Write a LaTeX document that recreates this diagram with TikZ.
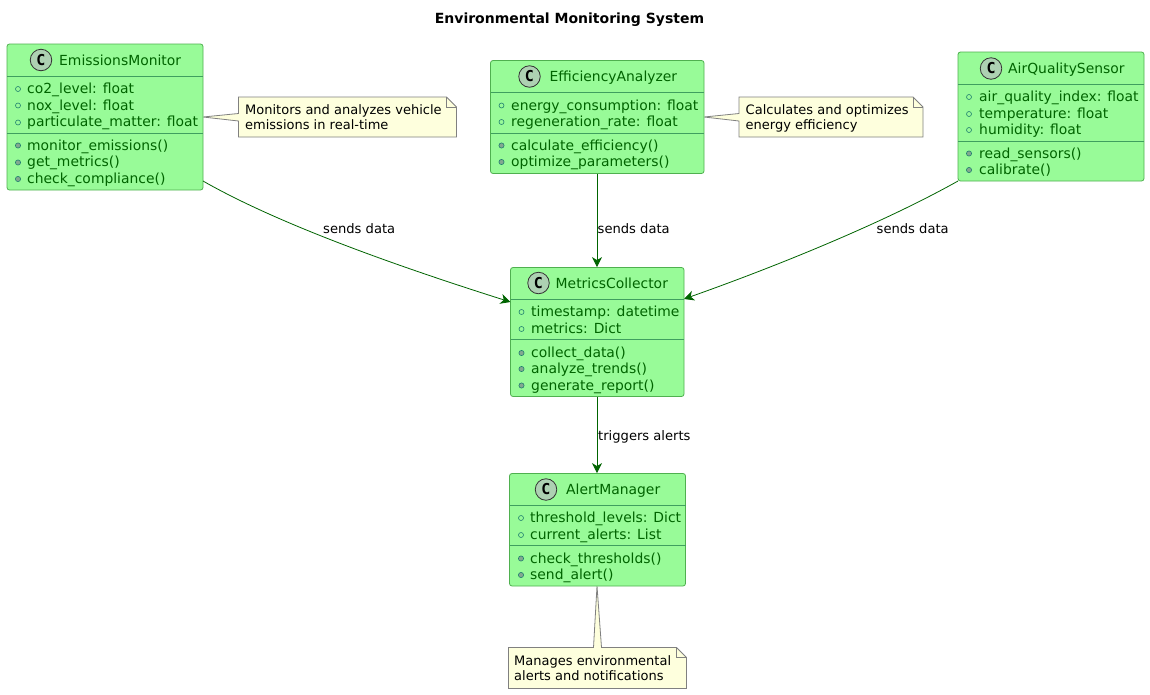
\documentclass[tikz,border=0pt]{standalone}
\usepackage{fontspec}
\setmainfont{DejaVu Sans}
\newfontfamily\cmono{DejaVu Sans Mono}
\usetikzlibrary{arrows.meta}
\definecolor{boxfill}{HTML}{98FB98}
\definecolor{boxline}{HTML}{006400}
\definecolor{boxedge}{HTML}{4FB04F}
\definecolor{sepline}{HTML}{3F9F5F}
\definecolor{notefill}{HTML}{FEFFDD}
\definecolor{noteline}{HTML}{808080}
\definecolor{circfill}{HTML}{ADD1B2}
\definecolor{markline}{HTML}{1F7F6F}
\definecolor{markfill}{HTML}{84A890}
\tikzset{
 x=1pt,y=-1pt,
 classbox/.style={draw=boxedge,fill=boxfill,line width=.8pt,rounded corners=2.5pt},
 sep/.style={draw=sepline,line width=.6pt},
 ctext/.style={inner sep=0pt,anchor=base west,text=boxline,font=\fontsize{13.9}{16}\selectfont},
 ntext/.style={inner sep=0pt,anchor=base west,text=black,font=\fontsize{13}{15}\selectfont},
 ltext/.style={inner sep=0pt,anchor=base west,text=black,font=\fontsize{13.1}{15}\selectfont},
 conn/.style={draw=boxline,line width=.8pt,-{Stealth[length=10pt,width=10pt,inset=3pt]}},
 notepoly/.style={draw=noteline,fill=notefill,line width=.8pt},
 vis/.style={draw=markline,line width=.6pt,fill=none},
 met/.style={draw=markline,line width=.6pt,fill=markfill},
}
\newcommand{\classicon}[2]{%
 \node[draw=black!80,fill=circfill,circle,minimum size=21.5pt,inner sep=0pt,line width=.8pt,font=\cmono\fontsize{15}{15}\bfseries\selectfont] (#1) at #2 {C};}
\newcommand{\vismark}[2]{\draw[vis] (#1,#2) circle (2.5pt);}
\newcommand{\metmark}[2]{\draw[met] (#1,#2) circle (2.6pt);}
\begin{document}
\begin{tikzpicture}
\useasboundingbox (0,0) rectangle (1150,694);
\fill[white] (0,0) rectangle (1150,694);
\node[inner sep=0pt,font=\fontsize{14}{16}\bfseries\selectfont] (title) at (569.5,19.5) {Environmental Monitoring System};

% notes' wedges and bodies
\coordinate (n1a) at (203,117);
\path[notepoly] (n1a) -- (238.5,113.5) -- (238.5,97) -- (446.5,97) -- (456.5,107) -- (456.5,137) -- (238.5,137) -- (238.5,121) -- cycle;
\draw[noteline,line width=.8pt] (446.5,97) -- (446.5,107) -- (456.5,107);
\node[ntext] (n1t1) at (245,114.5) {Monitors and analyzes vehicle};
\node[ntext] (n1t2) at (245,129.5) {emissions in real-time};

\coordinate (n2a) at (704,117);
\path[notepoly] (n2a) -- (739,113.5) -- (739,97) -- (913,97) -- (923,107) -- (923,137) -- (739,137) -- (739,121) -- cycle;
\draw[noteline,line width=.8pt] (913,97) -- (913,107) -- (923,107);
\node[ntext] (n2t1) at (745.5,114.5) {Calculates and optimizes};
\node[ntext] (n2t2) at (745.5,129.5) {energy efficiency};

\coordinate (n3a) at (597,586);
\path[notepoly] (n3a) -- (593.5,647.5) -- (508.5,647.5) -- (508.5,688.5) -- (686.5,688.5) -- (686.5,657.5) -- (676.5,647.5) -- (601.5,647.5) -- cycle;
\draw[noteline,line width=.8pt] (676.5,647.5) -- (676.5,657.5) -- (686.5,657.5);
\node[ntext] (n3t1) at (514,665) {Manages environmental};
\node[ntext] (n3t2) at (514,680) {alerts and notifications};

% EmissionsMonitor
\node[classbox,inner sep=0pt,minimum width=196pt,minimum height=146pt] (em) at (105,117) {};
\draw[sep] (7,76.5) -- (203,76.5); \draw[sep] (7,133) -- (203,133);
\classicon{emc}{(41,60)}
\node[ctext] (emt) at (59,65) {EmissionsMonitor};
\vismark{18}{89}\node[ctext] (em1) at (27,93) {co2\_level: float};
\vismark{18}{105.5}\node[ctext] (em2) at (27,110) {nox\_level: float};
\vismark{18}{122.5}\node[ctext] (em3) at (27,126.5) {particulate\_matter: float};
\metmark{18}{145.5}\node[ctext] (em4) at (27,150) {monitor\_emissions()};
\metmark{18}{162.5}\node[ctext] (em5) at (27,166.5) {get\_metrics()};
\metmark{18}{179}\node[ctext] (em6) at (27,183) {check\_compliance()};

% EfficiencyAnalyzer
\node[classbox,inner sep=0pt,minimum width=213.5pt,minimum height=113pt] (ea) at (597.25,117) {};
\draw[sep] (490.5,92.5) -- (704,92.5); \draw[sep] (490.5,133) -- (704,133);
\classicon{eac}{(529.5,76.5)}
\node[ctext] (eat) at (549.5,81.5) {EfficiencyAnalyzer};
\vismark{501.5}{105.5}\node[ctext] (ea1) at (511,110) {energy\_consumption: float};
\vismark{501.5}{122}\node[ctext] (ea2) at (511,126.5) {regeneration\_rate: float};
\metmark{501.5}{145.5}\node[ctext] (ea3) at (511,150) {calculate\_efficiency()};
\metmark{501.5}{162}\node[ctext] (ea4) at (511,166.5) {optimize\_parameters()};

% AirQualitySensor
\node[classbox,inner sep=0pt,minimum width=186pt,minimum height=129pt] (aq) at (1051,116.5) {};
\draw[sep] (958,84.5) -- (1144,84.5); \draw[sep] (958,141) -- (1144,141);
\classicon{aqc}{(991,68.5)}
\node[ctext] (aqt) at (1008,73) {AirQualitySensor};
\vismark{969}{97}\node[ctext] (aq1) at (979,101.5) {air\_quality\_index: float};
\vismark{969}{114}\node[ctext] (aq2) at (979,118) {temperature: float};
\vismark{969}{130}\node[ctext] (aq3) at (979,134.5) {humidity: float};
\metmark{969}{153.5}\node[ctext] (aq4) at (979,158) {read\_sensors()};
\metmark{969}{170}\node[ctext] (aq5) at (979,174.5) {calibrate()};

% MetricsCollector
\node[classbox,inner sep=0pt,minimum width=173.5pt,minimum height=129pt] (mc) at (597.25,332) {};
\draw[sep] (510.5,299.5) -- (684,299.5); \draw[sep] (510.5,339.5) -- (684,339.5);
\classicon{mcc}{(538.5,283)}
\node[ctext] (mct) at (555.5,288) {MetricsCollector};
\vismark{521.5}{312}\node[ctext] (mc1) at (531,316.5) {timestamp: datetime};
\vismark{521.5}{329}\node[ctext] (mc2) at (531,333) {metrics: Dict};
\metmark{521.5}{353}\node[ctext] (mc3) at (531,357) {collect\_data()};
\metmark{521.5}{369}\node[ctext] (mc4) at (531,373.5) {analyze\_trends()};
\metmark{521.5}{385.5}\node[ctext] (mc5) at (531,390) {generate\_report()};

% AlertManager
\node[classbox,inner sep=0pt,minimum width=176pt,minimum height=112.5pt] (am) at (597.5,529.75) {};
\draw[sep] (509.5,505.5) -- (685.5,505.5); \draw[sep] (509.5,545.5) -- (685.5,545.5);
\classicon{amc}{(546,489.5)}
\node[ctext] (amt) at (566,494.5) {AlertManager};
\vismark{521}{518}\node[ctext] (am1) at (530,522.5) {threshold\_levels: Dict};
\vismark{521}{535}\node[ctext] (am2) at (530,539) {current\_alerts: List};
\metmark{521}{558.5}\node[ctext] (am3) at (530,563) {check\_thresholds()};
\metmark{521}{575}\node[ctext] (am4) at (530,579.5) {send\_alert()};

% connectors
\coordinate (emout) at (203,181);
\coordinate (mcin1) at (510.5,302);
\coordinate (aqout) at (958,181);
\coordinate (mcin2) at (684,299);
\draw[conn] (emout) .. controls (280,225) and (400,267) .. (mcin1);
\draw[conn] (ea.south -| 597,0) -- (mc.north -| 597,0);
\draw[conn] (aqout) .. controls (885,222) and (780,265) .. (mcin2);
\draw[conn] (mc.south -| 597,0) -- (am.north -| 597,0);
\node[ltext] (l1) at (323,233) {sends data};
\node[ltext] (l2) at (597.5,233) {sends data};
\node[ltext] (l3) at (876.5,233) {sends data};
\node[ltext] (l4) at (598,440) {triggers alerts};
\end{tikzpicture}
\end{document}
